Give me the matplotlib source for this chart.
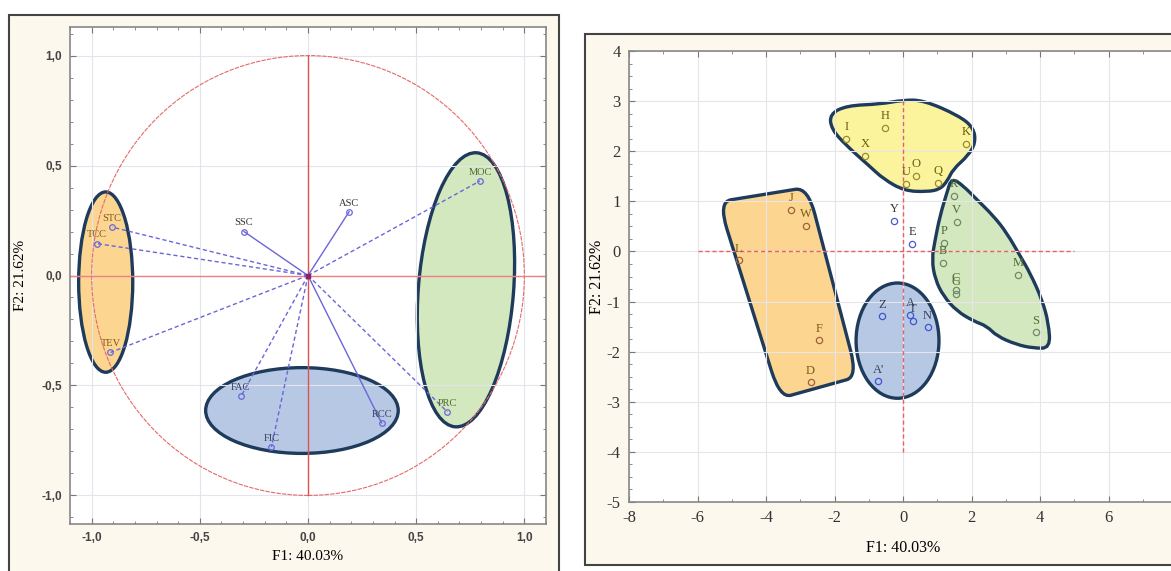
import numpy as np
import matplotlib.pyplot as plt
from matplotlib.patches import Ellipse, Circle, Rectangle, PathPatch
from matplotlib.path import Path
from matplotlib.ticker import FuncFormatter, MultipleLocator, FixedLocator

# ---- left: correlation circle (variables)
var_names = ['STC', 'TCC', 'TEV', 'SSC', 'ASC', 'MOC', 'PRC', 'RCC', 'FIC', 'FAC']
var_f1 = [-0.905, -0.974, -0.913, -0.296, 0.19, 0.795, 0.644, 0.34, -0.169, -0.31]
var_f2 = [0.22, 0.145, -0.35, 0.20, 0.29, 0.43, -0.62, -0.67, -0.78, -0.55]
var_dashed = [True, True, True, False, False, True, True, False, True, True]
var_group = ['orange', 'orange', 'orange', 'none', 'none',
             'green', 'green', 'blue', 'blue', 'blue']

# cluster ellipses on the circle: centre x, centre y, width, height, angle
ell_group = ['orange', 'green', 'blue']
ell_cx = [-0.935, 0.73, -0.028]
ell_cy = [-0.03, -0.065, -0.614]
ell_w = [0.25, 1.25, 0.89]
ell_h = [0.82, 0.44, 0.39]
ell_ang = [0, 85.4, 0]

# ---- right: observations
obs_names = ['H', 'I', 'X', 'K', 'O', 'U', 'Q',
             'J', 'W', 'L', 'F', 'D',
             'Z', 'A', 'T', 'N', "A'",
             'R', 'V', 'P', 'B', 'M', 'C', 'G', 'S',
             'Y', 'E']
obs_f1 = [-0.53, -1.65, -1.11, 1.83, 0.38, 0.09, 1.01,
          -3.27, -2.83, -4.79, -2.46, -2.70,
          -0.62, 0.21, 0.28, 0.72, -0.72,
          1.49, 1.57, 1.20, 1.16, 3.35, 1.54, 1.54, 3.87,
          -0.26, 0.27]
obs_f2 = [2.47, 2.25, 1.91, 2.15, 1.51, 1.35, 1.37,
          0.83, 0.51, -0.18, -1.77, -2.61,
          -1.29, -1.26, -1.38, -1.51, -2.59,
          1.11, 0.59, 0.17, -0.23, -0.47, -0.77, -0.85, -1.61,
          0.61, 0.15]
obs_group = ['yellow'] * 7 + ['orange'] * 5 + ['blue'] * 5 + ['green'] * 8 + ['none'] * 2

# hand drawn cluster outlines (F1, F2)
yellow_x = [-2.14, -1.65, -0.67, -0.01, 0.59, 1.63, 2.06, 2.12, 1.90, 1.46,
            1.30, 1.08, 0.70, 0.04, -0.56, -0.99, -1.65, -2.09]
yellow_y = [2.74, 2.91, 2.94, 3.02, 3.02, 2.71, 2.47, 2.17, 1.91, 1.64,
            1.41, 1.24, 1.19, 1.21, 1.44, 1.71, 2.11, 2.44]
green_x = [1.42, 1.76, 2.15, 2.64, 3.03, 3.42, 3.71, 4.06, 4.25, 4.30, 3.81,
           3.32, 2.74, 2.45, 2.06, 1.57, 1.18, 0.94, 0.84, 0.94, 1.08, 1.28]
green_y = [1.47, 1.31, 1.04, 0.71, 0.37, -0.09, -0.43, -0.96, -1.43, -1.93, -1.93,
           -1.86, -1.69, -1.49, -1.39, -1.19, -0.89, -0.56, -0.16, 0.24, 0.71, 1.17]
orange_x = [-5.39, -2.78, -1.33, -3.59]
orange_y = [0.99, 1.28, -2.50, -2.93]
blue_cx, blue_cy, blue_w, blue_h = -0.16, -1.78, 2.42, 2.30

fill = {'orange': '#fcd690', 'green': '#d3e8bf', 'blue': '#b6c8e4', 'yellow': '#fbf49c'}
edge = '#1f3b5c'
lab_col = {'orange': '#7a5a1a', 'green': '#4f6a30', 'blue': '#34405e',
           'yellow': '#6a5a10', 'none': '#333333'}
mk_col = {'orange': '#a0603a', 'green': '#6f8a66', 'blue': '#3f56d4',
          'yellow': '#9a8a30', 'none': '#4a5ad0'}


def outline(xs, ys, f):
    v = np.column_stack([xs, ys])
    n = len(v)
    verts, codes = [], []
    for i in range(n):
        p, c, q = v[i - 1], v[i], v[(i + 1) % n]
        a = c + f * (p - c)
        b = c + f * (q - c)
        verts.append(a)
        codes.append(Path.MOVETO if i == 0 else Path.LINETO)
        verts += [c, b]
        codes += [Path.CURVE3, Path.CURVE3]
    verts.append(verts[0])
    codes.append(Path.CLOSEPOLY)
    return Path(verts, codes)


serif = 'Liberation Serif'
sans = 'Liberation Sans'

fig = plt.figure(figsize=(11.71, 5.71), dpi=100)
fig.patch.set_facecolor('white')

# panel frames
fig.patches.append(Rectangle((9 / 1171, -0.02), 550 / 1171, 1.02 - 15 / 571,
                             transform=fig.transFigure, facecolor='#fcf8ee',
                             edgecolor='#444444', lw=1.5, zorder=-5))
fig.patches.append(Rectangle((585 / 1171, 6 / 571), 0.6, 531 / 571,
                             transform=fig.transFigure, facecolor='#fcf8ee',
                             edgecolor='#444444', lw=1.5, zorder=-5))

# ================= left panel
ax = fig.add_axes([70 / 1171, 1 - 524 / 571, 476 / 1171, 497 / 571])
ax.set_xlim(-1.1, 1.1)
ax.set_ylim(-1.13, 1.13)
ax.set_facecolor('white')
ax.xaxis.set_major_locator(MultipleLocator(0.5))
ax.yaxis.set_major_locator(MultipleLocator(0.5))
ax.xaxis.set_minor_locator(MultipleLocator(0.1))
ax.yaxis.set_minor_locator(MultipleLocator(0.1))
comma = FuncFormatter(lambda v, p: ('%.1f' % v).replace('.', ','))
ax.xaxis.set_major_formatter(comma)
ax.yaxis.set_major_formatter(comma)
ax.grid(True, which='major', color='#e4e4ec', lw=0.8, zorder=0)
ax.tick_params(which='both', direction='in', top=True, right=True, color='#777777')
ax.tick_params(which='major', length=4, labelsize=8.5, labelcolor='#444444', pad=6)
ax.tick_params(which='minor', length=2)
for lab in ax.get_xticklabels() + ax.get_yticklabels():
    lab.set_fontfamily(sans)
    lab.set_fontweight('bold')
for s in ax.spines.values():
    s.set_color('#888888')
    s.set_linewidth(1.2)

for g, cx, cy, w, h, a in zip(ell_group, ell_cx, ell_cy, ell_w, ell_h, ell_ang):
    ax.add_patch(Ellipse((cx, cy), w, h, angle=a, facecolor=fill[g],
                         edgecolor=edge, lw=2.4, zorder=1))

ax.add_patch(Circle((0, 0), 1, fill=False, edgecolor='#e46a6a', lw=0.8,
                    ls=(0, (4, 1)), zorder=2))
ax.axhline(0, color='#ee8080', lw=1, zorder=2)
ax.plot([0, 0], [-1, 1], color='#e05050', lw=1, zorder=2)

for name, x, y, d, g in zip(var_names, var_f1, var_f2, var_dashed, var_group):
    ax.plot([0, x], [0, y], color='#6a66d8', lw=1,
            ls=(0, (3, 2)) if d else '-', zorder=3)
    ax.plot(x, y, 'o', ms=4, mfc='none', mec='#6a66d8', mew=0.9, zorder=4)
    ax.annotate(name, (x, y), xytext=(0, 3), textcoords='offset points',
                ha='center', va='bottom', fontsize=7.5, family=serif,
                color=lab_col[g], zorder=5)
ax.plot(0, 0, 's', ms=3, color='#902060', zorder=5)

ax.set_xlabel('F1: 40.03%', family=serif, fontsize=11, labelpad=4)
ax.set_ylabel('F2: 21.62%', family=serif, fontsize=11, labelpad=10)

# ================= right panel
bx = fig.add_axes([629 / 1171, 1 - 502 / 571, 548 / 1171, 451 / 571])
bx.set_xlim(-8, 8)
bx.set_ylim(-5, 4)
bx.set_facecolor('white')
bx.xaxis.set_major_locator(FixedLocator(np.arange(-8, 7, 2)))
bx.yaxis.set_major_locator(MultipleLocator(1))
bx.xaxis.set_minor_locator(MultipleLocator(1))
bx.yaxis.set_minor_locator(MultipleLocator(0.25))
bx.xaxis.set_major_formatter(FuncFormatter(lambda v, p: '%d' % v))
bx.yaxis.set_major_formatter(FuncFormatter(lambda v, p: '%d' % v))
bx.grid(True, which='major', color='#e6e6ea', lw=0.8, zorder=0)
bx.tick_params(which='both', direction='in', top=True, right=True, color='#777777')
bx.tick_params(which='major', length=4, labelsize=12, labelcolor='#333333', pad=6)
bx.tick_params(which='minor', length=2)
for lab in bx.get_xticklabels() + bx.get_yticklabels():
    lab.set_fontfamily(serif)
for s in bx.spines.values():
    s.set_color('#888888')
    s.set_linewidth(1.2)

bx.add_patch(PathPatch(outline(yellow_x, yellow_y, 0.5), facecolor=fill['yellow'],
                       edgecolor=edge, lw=2.4, zorder=1))
bx.add_patch(PathPatch(outline(green_x, green_y, 0.5), facecolor=fill['green'],
                       edgecolor=edge, lw=2.4, zorder=1))
bx.add_patch(PathPatch(outline(orange_x, orange_y, 0.14), facecolor=fill['orange'],
                       edgecolor=edge, lw=2.4, zorder=1))
bx.add_patch(Ellipse((blue_cx, blue_cy), blue_w, blue_h, facecolor=fill['blue'],
                     edgecolor=edge, lw=2.4, zorder=1))

bx.plot([-6, 5], [0, 0], color='#e86060', lw=1, ls=(0, (3, 2)), zorder=2)
bx.plot([0, 0], [-4, 3], color='#e86060', lw=1, ls=(0, (3, 2)), zorder=2)

for name, x, y, g in zip(obs_names, obs_f1, obs_f2, obs_group):
    bx.plot(x, y, 'o', ms=4.5, mfc='none', mec=mk_col[g], mew=0.9, zorder=4)
    bx.annotate(name, (x, y), xytext=(0, 4), textcoords='offset points',
                ha='center', va='bottom', fontsize=9, family=serif,
                color=lab_col[g], zorder=5)

bx.set_xlabel('F1: 40.03%', family=serif, fontsize=11.5, labelpad=10)
bx.set_ylabel('F2: 21.62%', family=serif, fontsize=11.5, labelpad=1)

fig.savefig('out.png', dpi=100)
